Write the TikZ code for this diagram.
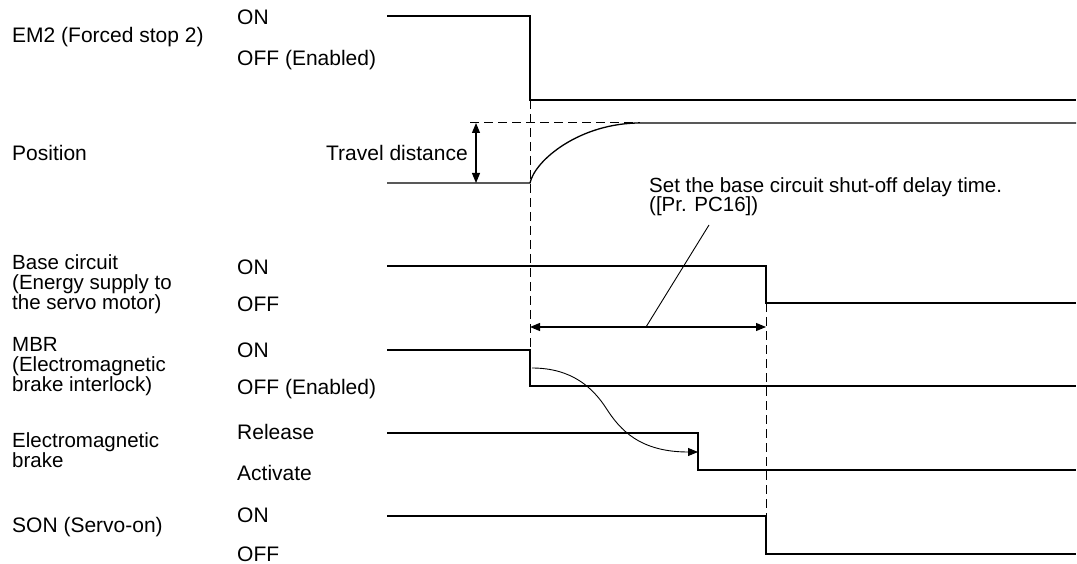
\documentclass[tikz,border=0pt]{standalone}
\usepackage{fontspec}
\setmainfont{Liberation Sans}
\usetikzlibrary{arrows.meta}
\begin{document}
\begin{tikzpicture}[x=1pt,y=-1pt,
  lbl/.style={anchor=base west,inner sep=0pt,text height=15pt,text depth=2.5pt,font=\fontsize{21}{19}\selectfont},
  lblm/.style={lbl,font=\fontsize{20.5}{19}\selectfont},
  sig/.style={line width=1.3pt,line join=miter},
  guide/.style={line width=1pt,dash pattern=on 9pt off 5pt},
  dim/.style={line width=1.1pt,{Triangle[length=10pt,width=8pt]}-{Triangle[length=10pt,width=8pt]}},
  lead/.style={line width=0.9pt}]
\useasboundingbox (0,0) rectangle (1077,564);
% ---- left labels
\node[lbl] (tEM) at (12,43) {EM2 (Forced stop 2)};
\node[lbl] (tPos) at (12,161) {Position};
\node[lblm] (tBC1) at (12,270) {Base circuit};
\node[lblm] (tBC2) at (12,289.5) {(Energy supply to};
\node[lblm] (tBC3) at (12,309) {the servo motor)};
\node[lblm] (tMB1) at (12,352) {MBR};
\node[lblm] (tMB2) at (12,371.5) {(Electromagnetic};
\node[lblm] (tMB3) at (12,391) {brake interlock)};
\node[lblm] (tEB1) at (12,447.5) {Electromagnetic};
\node[lblm] (tEB2) at (12,467) {brake};
\node[lbl] (tSON) at (12,532) {SON (Servo-on)};
% ---- state labels
\node[lbl] (sEMon) at (237,25) {ON};
\node[lbl] (sEMoff) at (237,66) {OFF (Enabled)};
\node[lbl] (sBCon) at (237,275) {ON};
\node[lbl] (sBCoff) at (237,312) {OFF};
\node[lbl] (sMBon) at (237,357) {ON};
\node[lbl] (sMBoff) at (237,394) {OFF (Enabled)};
\node[lbl] (sEBrel) at (237,439) {Release};
\node[lbl] (sEBact) at (237,480) {Activate};
\node[lbl] (sSONon) at (237,522) {ON};
\node[lbl,text depth=1pt] (sSONoff) at (237,561) {OFF};
\node[lbl,anchor=base east] (tTD) at (468,161) {Travel distance};
\node[lblm] (tSet1) at (649,192.5) {Set the base circuit shut-off delay time.};
\node[lblm] (tSet2) at (649,212) {([Pr. PC16])};
% ---- key coordinates
\coordinate (em0) at (387,16);
\coordinate (emA) at (530,16);
\coordinate (emB) at (530,100);
\coordinate (em1) at (1076,100);
\coordinate (ps0) at (387,183);
\coordinate (psA) at (530,183);
\coordinate (psB) at (640,123);
\coordinate (ps1) at (1076,123);
\coordinate (tdT) at (476,123);
\coordinate (tdB) at (476,183);
\coordinate (dsh) at (470,123);
\coordinate (bc0) at (387,266);
\coordinate (bcA) at (766,266);
\coordinate (bcB) at (766,303);
\coordinate (bc1) at (1076,303);
\coordinate (mb0) at (387,350);
\coordinate (mbA) at (530,350);
\coordinate (mbB) at (530,386);
\coordinate (mb1) at (1076,386);
\coordinate (eb0) at (387,433);
\coordinate (ebA) at (698,433);
\coordinate (ebB) at (698,470);
\coordinate (eb1) at (1076,470);
\coordinate (sn0) at (387,516);
\coordinate (snA) at (766,516);
\coordinate (snB) at (766,554);
\coordinate (sn1) at (1076,554);
\coordinate (dlL) at (530,327);
\coordinate (dlR) at (766,327);
\coordinate (ldB) at (646,327);
\coordinate (ldT) at (709,225);
\coordinate (cvS) at (532,368);
\coordinate (cvM) at (606,408);
\coordinate (cvE) at (698,452);
% ---- guides
\draw[guide] (emB) -- (mbA);
\draw[guide] (bcB) -- (snA);
\draw[guide] (dsh) -- (psB);
% ---- signals
\draw[sig] (em0) -- (emA) -- (emB) -- (em1);
\draw[sig] (ps0) -- (psA) .. controls (535,160) and (580,123) .. (psB) -- (ps1);
\draw[sig] (bc0) -- (bcA) -- (bcB) -- (bc1);
\draw[sig] (mb0) -- (mbA) -- (mbB) -- (mb1);
\draw[sig] (eb0) -- (ebA) -- (ebB) -- (eb1);
\draw[sig] (sn0) -- (snA) -- (snB) -- (sn1);
% ---- dimensions
\draw[dim] (tdT) -- (tdB);
\draw[dim] (dlL) -- (dlR);
\draw[lead] (ldB) -- (ldT);
\draw[lead,-{Triangle[length=10pt,width=8pt]}] (cvS) .. controls (572,368) and (593,388) .. (cvM) .. controls (620,430) and (640,452) .. (cvE);
\end{tikzpicture}
\end{document}
